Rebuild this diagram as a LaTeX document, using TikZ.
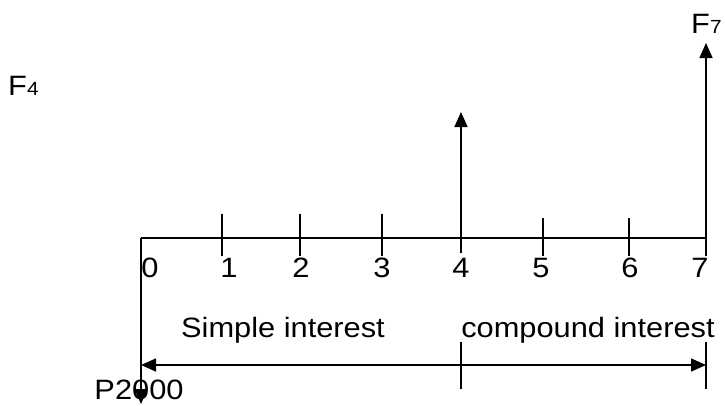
\documentclass[tikz,border=0pt]{standalone}
\usepackage{fontspec}
\setmainfont{Liberation Sans}
\usetikzlibrary{arrows.meta}
\newcommand{\bigtxt}[1]{\scalebox{1.1}[1]{\fontsize{28}{30}\selectfont #1}}
\newcommand{\subtxt}[1]{\raisebox{-0.08em}{\scalebox{1.1}[1]{\fontsize{19}{20}\selectfont #1}}}
\tikzset{
  ln/.style={line width=1.6pt, black},
  arr/.style={ln, -{Triangle[length=15pt,width=13pt]}},
  darr/.style={ln, {Triangle[length=15pt,width=13pt]}-{Triangle[length=15pt,width=13pt]}},
  lbl/.style={inner sep=0pt, anchor=base},
  lblw/.style={inner sep=0pt, anchor=base west}
}
\begin{document}
\begin{tikzpicture}[x=1pt,y=-1pt]
\useasboundingbox (0,0) rectangle (725,405);
% axis
\coordinate (a0) at (141,238);
\coordinate (a7) at (706,238);
\draw[ln] (a0) -- (a7);
% ticks
\foreach \x/\t/\b in {222/214/256, 300/214/256, 382/214/256, 543/218/256, 629/218/256}{
  \coordinate (tt\x) at (\x,\t);
  \coordinate (tb\x) at (\x,\b);
  \draw[ln] (tt\x) -- (tb\x);
}
% cash flow arrows
\coordinate (f4b) at (461,253);
\coordinate (f4t) at (461,112);
\draw[arr] (f4b) -- (f4t);
\coordinate (f7b) at (706,256);
\coordinate (f7t) at (706,43);
\draw[arr] (f7b) -- (f7t);
\coordinate (pt) at (141,404);
\draw[arr] (a0) -- (pt);
% period arrow
\coordinate (dl) at (141,365);
\coordinate (dr) at (706,365);
\draw[darr] (dl) -- (dr);
\coordinate (m1) at (461,342);
\coordinate (m2) at (461,389);
\draw[ln] (m1) -- (m2);
\coordinate (r1) at (706,342);
\coordinate (r2) at (706,389);
\draw[ln] (r1) -- (r2);
% labels
\foreach \n/\x in {0/150, 1/229, 2/301, 3/382, 4/461, 5/541, 6/630, 7/700}{
  \node[lbl] (n\n) at (\x,277) {\bigtxt{\n}};
}
\node[lbl] (simple) at (283,337) {\bigtxt{Simple interest}};
\node[lbl] (compound) at (588,337) {\bigtxt{compound interest}};
\node[lbl] (p) at (139,399) {\bigtxt{P2000}};
\node[lblw] (F4) at (8,95) {\bigtxt{F}\subtxt{4}};
\node[lblw] (F7) at (691,33) {\bigtxt{F}\subtxt{7}};
\end{tikzpicture}
\end{document}
